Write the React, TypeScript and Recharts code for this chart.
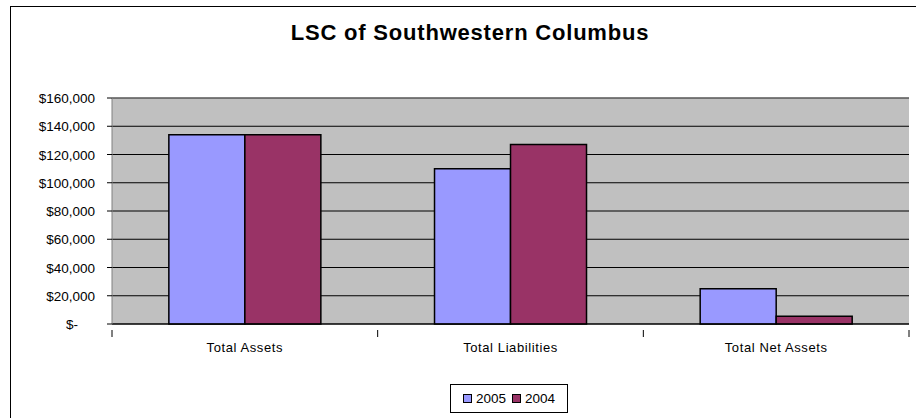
import { BarChart, Bar, XAxis, YAxis, CartesianGrid, ReferenceLine } from 'recharts';

const categories = ['Total Assets', 'Total Liabilities', 'Total Net Assets'];
const values2005 = [134000, 110000, 25000];
const values2004 = [134000, 127000, 5500];
const yTicks = [0, 20000, 40000, 60000, 80000, 100000, 120000, 140000, 160000];

const series = [
  { key: 'y2005', name: '2005', color: '#9999FF' },
  { key: 'y2004', name: '2004', color: '#993366' },
];

const data = categories.map((c, i) => ({ name: c, y2005: values2005[i], y2004: values2004[i] }));

const FONT = 'Arial, "Liberation Sans", sans-serif';

const fmt = (v: number) => (v === 0 ? '$-' : '$' + v.toLocaleString('en-US'));

function YTick(props: any) {
  const { x, y, payload } = props;
  const isZero = payload.value === 0;
  return (
    <g>
      <line x1={x + 3} x2={x + 8} y1={y} y2={y} stroke="#000" />
      <text x={isZero ? x - 26 : x - 9} y={y} dy={5} textAnchor="end" fontSize={13.5} fontFamily={FONT} fill="#000">
        {fmt(payload.value)}
      </text>
    </g>
  );
}

function XTick(props: any) {
  const { x, y, payload, index } = props;
  const off = payload.offset || 0;
  return (
    <g>
      <line x1={x - off} x2={x - off} y1={y - 2} y2={y + 5} stroke="#000" />
      {index === categories.length - 1 && (
        <line x1={x + off} x2={x + off} y1={y - 2} y2={y + 5} stroke="#000" />
      )}
      <text x={x} y={y + 20} textAnchor="middle" fontSize={13} letterSpacing={0.6} fontFamily={FONT} fill="#000">
        {payload.value}
      </text>
    </g>
  );
}

export default function App() {
  return (
    <div style={{ position: 'fixed', left: 0, top: 0, width: 916, height: 418, overflow: 'hidden', background: '#fff' }}>
      <div style={{ position: 'absolute', left: 10, top: 6, width: 920, height: 420, border: '1px solid #000', boxSizing: 'border-box', fontFamily: FONT }}>
        <div style={{ position: 'absolute', left: 0, top: 13, width: 918, textAlign: 'center', fontSize: 22, fontWeight: 'bold', letterSpacing: 0.8 }}>
          LSC of Southwestern Columbus
        </div>
        <BarChart
          width={918}
          height={418}
          data={data}
          margin={{ top: 91, right: 20, bottom: 70, left: 0 }}
          barCategoryGap="21.4%"
          barGap={0}
        >
          <CartesianGrid vertical={false} fill="#C0C0C0" stroke="#000" horizontalValues={yTicks} />
          <XAxis dataKey="name" height={31} axisLine={{ stroke: '#000' }} tickLine={false} tick={<XTick />} interval={0} />
          <YAxis
            width={101}
            domain={[0, 160000]}
            ticks={yTicks}
            axisLine={{ stroke: '#808080' }}
            tickLine={false}
            tick={<YTick />}
          />
          <YAxis yAxisId="r" orientation="right" width={0} axisLine={{ stroke: '#808080' }} tick={false} tickLine={false} />
          <ReferenceLine y={160000} stroke="#808080" />
          {series.map((s) => (
            <Bar key={s.key} dataKey={s.key} name={s.name} fill={s.color} stroke="#000" strokeWidth={1.5} isAnimationActive={false} />
          ))}
        </BarChart>
        <div
          style={{
            position: 'absolute',
            left: 439,
            top: 377,
            width: 118,
            height: 29,
            border: '1px solid #000',
            boxSizing: 'border-box',
            display: 'flex',
            alignItems: 'center',
            justifyContent: 'center',
            fontSize: 13.5,
          }}
        >
          {series.map((s) => (
            <span key={s.key} style={{ display: 'flex', alignItems: 'center', margin: '0 3px' }}>
              <span style={{ display: 'inline-block', width: 7, height: 7, background: s.color, border: '1.5px solid #000', marginRight: 4 }} />
              {s.name}
            </span>
          ))}
        </div>
      </div>
    </div>
  );
}
